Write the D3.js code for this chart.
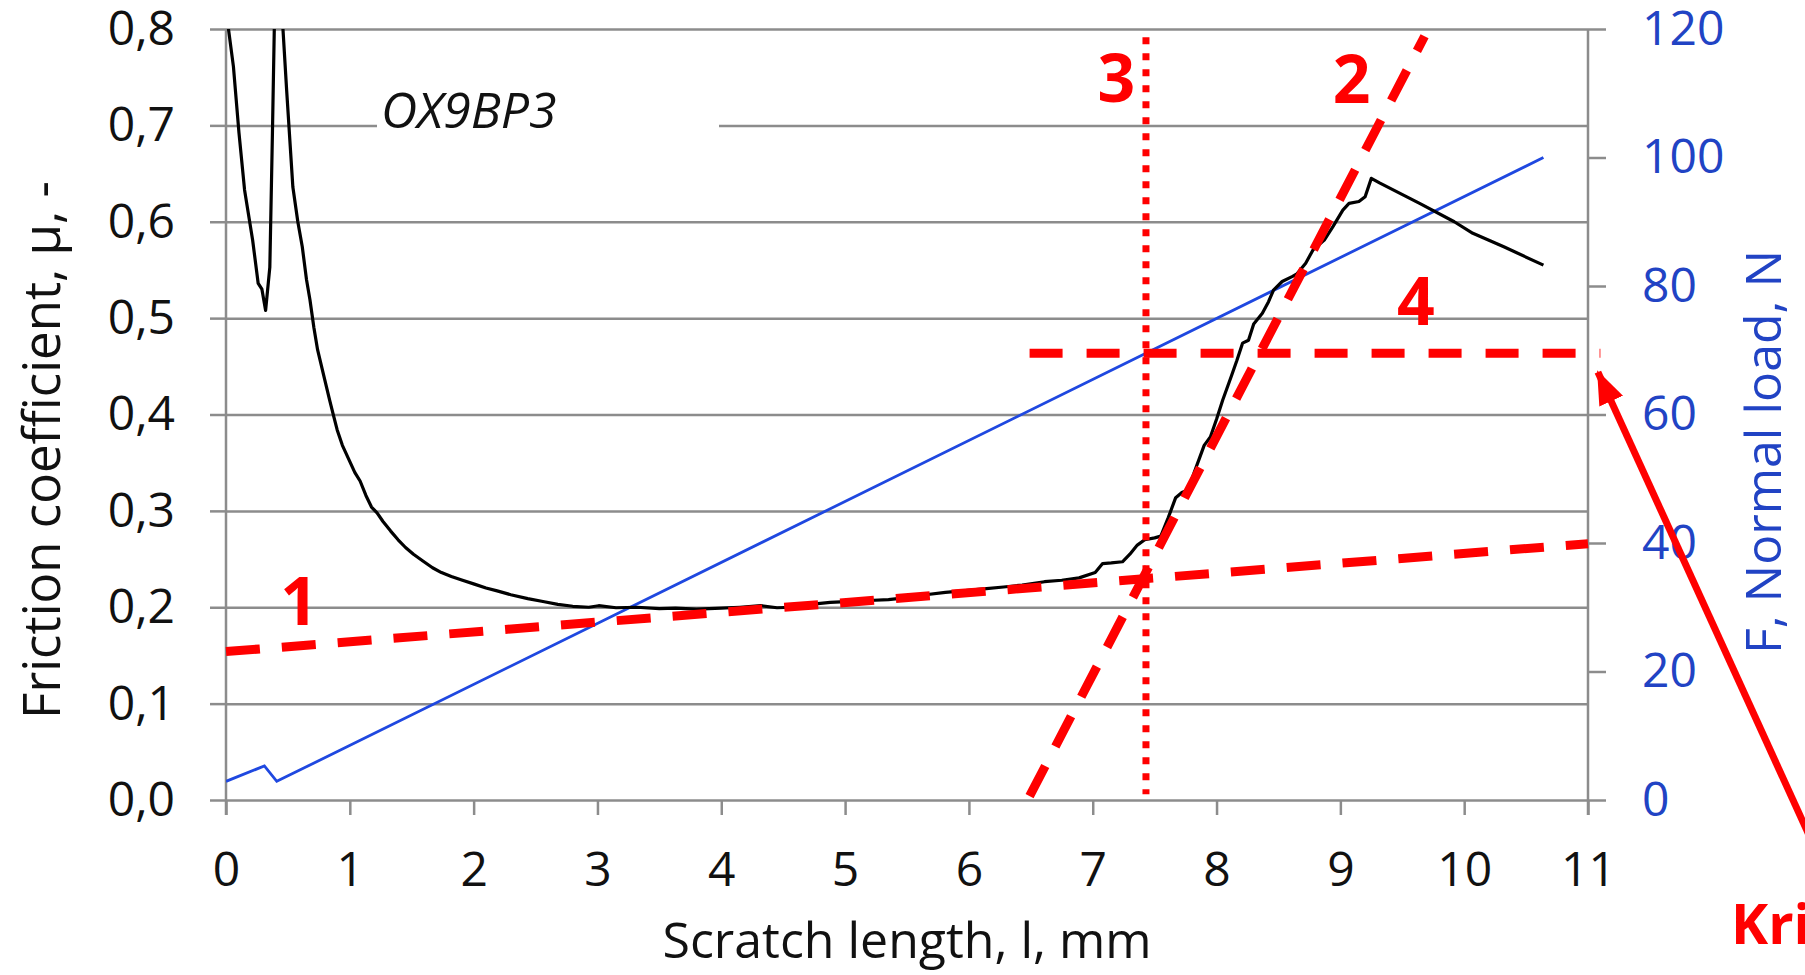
<!DOCTYPE html>
<html>
<head>
<meta charset="utf-8">
<script src="https://cdn.jsdelivr.net/npm/d3@7"></script>
<style>
  body { margin: 0; background: #fff; }
  svg { display: block; font-family: "Open Sans", "Noto Sans", sans-serif; }
</style>
</head>
<body>
<div id="chart-area"></div>
<script>
// scratch test, friction coefficient + normal load vs scratch length

const xTicks = [0, 1, 2, 3, 4, 5, 6, 7, 8, 9, 10, 11]
const muTicks = [0, 0.1, 0.2, 0.3, 0.4, 0.5, 0.6, 0.7, 0.8]
const loadTicks = [0, 20, 40, 60, 80, 100, 120]

// friction coefficient [l mm, mu]
const friction = [
  [0, 0.85], [0.02, 0.80], [0.06, 0.761], [0.105, 0.692], [0.15, 0.633], [0.16, 0.625],
  [0.215, 0.581], [0.26, 0.536], [0.29, 0.530], [0.32, 0.508], [0.354, 0.553], [0.375, 0.692],
  [0.39, 0.80], [0.41, 0.92], [0.46, 0.80], [0.49, 0.736], [0.54, 0.636], [0.58, 0.60],
  [0.616, 0.574], [0.65, 0.54], [0.678, 0.519], [0.71, 0.49], [0.74, 0.467], [0.79, 0.44],
  [0.837, 0.415], [0.87, 0.398], [0.898, 0.384], [0.94, 0.368], [0.99, 0.354], [1.04, 0.34],
  [1.083, 0.331], [1.13, 0.316], [1.175, 0.304], [1.22, 0.298], [1.268, 0.289], [1.33, 0.279],
  [1.39, 0.27], [1.45, 0.262], [1.514, 0.255], [1.59, 0.248], [1.668, 0.241], [1.74, 0.236],
  [1.82, 0.232], [1.91, 0.228], [2.006, 0.224], [2.1, 0.220], [2.19, 0.217], [2.3, 0.213],
  [2.437, 0.209], [2.56, 0.206], [2.68, 0.203], [2.8, 0.201], [2.93, 0.200], [3.01, 0.2016],
  [3.15, 0.1995], [3.32, 0.200], [3.5, 0.1985], [3.63, 0.199], [3.8, 0.198], [4.0, 0.199],
  [4.15, 0.200], [4.32, 0.2016], [4.45, 0.1995], [4.57, 0.200], [4.72, 0.203], [4.88, 0.205],
  [5.05, 0.206], [5.19, 0.207], [5.35, 0.208], [5.5, 0.210], [5.65, 0.213], [5.81, 0.2155],
  [5.95, 0.217], [6.12, 0.219], [6.28, 0.221], [6.43, 0.223], [6.61, 0.2265], [6.75, 0.228],
  [6.89, 0.2305], [7.02, 0.236], [7.08, 0.2453], [7.15, 0.246], [7.24, 0.2472], [7.30, 0.255],
  [7.36, 0.2645], [7.42, 0.27], [7.50, 0.272], [7.55, 0.2738], [7.61, 0.293], [7.67, 0.3137],
  [7.72, 0.319], [7.77, 0.3216], [7.82, 0.34], [7.86, 0.354], [7.9, 0.368], [7.95, 0.3766],
  [8.0, 0.395], [8.05, 0.415], [8.12, 0.44], [8.164, 0.456], [8.21, 0.474], [8.258, 0.477],
  [8.30, 0.494], [8.37, 0.505], [8.42, 0.517], [8.46, 0.529], [8.53, 0.538], [8.61, 0.543],
  [8.65, 0.546], [8.72, 0.557], [8.78, 0.571], [8.87, 0.581], [8.94, 0.595], [9.02, 0.612],
  [9.07, 0.619], [9.15, 0.621], [9.20, 0.626], [9.25, 0.645], [9.32, 0.64], [9.64, 0.619],
  [9.92, 0.6], [10.07, 0.588], [10.32, 0.574], [10.64, 0.555]
]

// normal load [l mm, F N]
const load = [[0, 2.9], [0.31, 5.3], [0.41, 2.9], [10.64, 100]]

// red construction lines, in l / mu
const fitLines = [
  { name: "1", x1: 0, y1: 0.154, x2: 11, y2: 0.266, dash: "34,22" },
  { name: "2", x1: 6.49, y1: 0.004, x2: 9.68, y2: 0.7925, dash: "34,22" },
  { name: "4", x1: 6.49, y1: 0.4635, x2: 11.1, y2: 0.4635, dash: "33,24" }
]
const critX = 7.43
const critRange = [0.006, 0.7915]

const markLabels = [
  { text: "1", x: 0.59, y: 0.1815 },
  { text: "2", x: 9.09, y: 0.723 },
  { text: "3", x: 7.19, y: 0.724 },
  { text: "4", x: 9.61, y: 0.4927 }
]

const arrowTip = [11.08, 0.444]
const arrowTail = [12.84, -0.052]

const W = 1805, H = 975
const X0 = 226, X1 = 1588, Y0 = 800, Y1 = 29

const svg = d3.select("#chart-area").append("svg")
  .attr("width", W)
  .attr("height", H)

const x = d3.scaleLinear().domain([0, 11]).range([X0, X1])
const y = d3.scaleLinear().domain([0, 0.8]).range([Y0, Y1])
const yR = d3.scaleLinear().domain([0, 120]).range([Y0, Y1])

const comma = d3.formatLocale({ decimal: ",", thousands: " ", grouping: [3], currency: ["", ""] }).format(".1f")

const gridColor = "#8c8c8c"
const blueText = "#2143c4"

svg.append("defs").append("clipPath").attr("id", "plot")
  .append("rect").attr("x", X0).attr("y", Y1).attr("width", X1 - X0).attr("height", Y0 - Y1)

// grid
const grid = svg.append("g")
  .attr("transform", `translate(${X0},0)`)
  .call(d3.axisLeft(y).tickValues(muTicks).tickSize(-(X1 - X0)).tickFormat(""))
grid.select(".domain").remove()
grid.selectAll("line").attr("stroke", gridColor).attr("stroke-width", 2.5)

// left axis
const yAxisGroup = svg.append("g")
  .attr("transform", `translate(${X0},0)`)
  .call(d3.axisLeft(y).tickValues(muTicks).tickSize(16).tickPadding(35).tickFormat(comma))
yAxisGroup.select(".domain").remove()
yAxisGroup.selectAll("line").attr("stroke", gridColor).attr("stroke-width", 2.5)
yAxisGroup.selectAll("text").attr("font-size", 48).attr("fill", "#111")
  .attr("font-family", "Open Sans, sans-serif")

// right axis
const yRAxisGroup = svg.append("g")
  .attr("transform", `translate(${X1},0)`)
  .call(d3.axisRight(yR).tickValues(loadTicks).tickSize(18).tickPadding(36))
yRAxisGroup.select(".domain").remove()
yRAxisGroup.selectAll("line").attr("stroke", gridColor).attr("stroke-width", 2.5)
yRAxisGroup.selectAll("text").attr("font-size", 48).attr("fill", blueText)
  .attr("font-family", "Open Sans, sans-serif")

// bottom axis
const xAxisGroup = svg.append("g")
  .attr("transform", `translate(0,${Y0})`)
  .call(d3.axisBottom(x).tickValues(xTicks).tickSize(15).tickPadding(37))
xAxisGroup.select(".domain").remove()
xAxisGroup.selectAll("line").attr("stroke", gridColor).attr("stroke-width", 2.5)
xAxisGroup.selectAll("text").attr("font-size", 48).attr("fill", "#111")
  .attr("font-family", "Open Sans, sans-serif")

// vertical axis lines
svg.selectAll(".vaxis").data([0, 11]).enter().append("line")
  .attr("x1", d => x(d)).attr("x2", d => x(d))
  .attr("y1", Y1).attr("y2", Y0 + 15)
  .attr("stroke", gridColor).attr("stroke-width", 2.5)

// sample name box
svg.append("rect")
  .attr("x", 377).attr("y", 70).attr("width", 342).attr("height", 100)
  .attr("fill", "#fff")
svg.append("text")
  .attr("x", 381).attr("y", 128)
  .attr("font-size", 50).attr("font-style", "italic")
  .attr("fill", "#111")
  .text("OX9BP3")

const plot = svg.append("g").attr("clip-path", "url(#plot)")

plot.append("path")
  .datum(load)
  .attr("fill", "none")
  .attr("stroke", "#1f48e0")
  .attr("stroke-width", 2.8)
  .attr("d", d3.line().x(d => x(d[0])).y(d => yR(d[1])))

plot.append("path")
  .datum(friction)
  .attr("fill", "none")
  .attr("stroke", "#000")
  .attr("stroke-width", 3.2)
  .attr("stroke-linejoin", "round")
  .attr("d", d3.line().x(d => x(d[0])).y(d => y(d[1])))

// red construction lines
svg.selectAll(".fit").data(fitLines).enter().append("line")
  .attr("x1", d => x(d.x1)).attr("y1", d => y(d.y1))
  .attr("x2", d => x(d.x2)).attr("y2", d => y(d.y2))
  .attr("stroke", "#ff0000")
  .attr("stroke-width", 9)
  .attr("stroke-dasharray", d => d.dash)

svg.append("line")
  .attr("x1", x(critX)).attr("x2", x(critX))
  .attr("y1", y(critRange[1])).attr("y2", y(critRange[0]))
  .attr("stroke", "#ff0000")
  .attr("stroke-width", 7)
  .attr("stroke-dasharray", "7,9")

svg.selectAll(".mark").data(markLabels).enter().append("text")
  .attr("x", d => x(d.x)).attr("y", d => y(d.y))
  .attr("text-anchor", "middle")
  .attr("font-size", 66).attr("font-weight", "bold")
  .attr("fill", "#ff0000")
  .text(d => d.text)

// arrow to critical load
svg.select("defs").append("marker")
  .attr("id", "head")
  .attr("markerUnits", "userSpaceOnUse")
  .attr("viewBox", "0 0 34 26")
  .attr("refX", 32).attr("refY", 13)
  .attr("markerWidth", 34).attr("markerHeight", 26)
  .attr("orient", "auto")
  .append("path").attr("d", "M0,0 L34,13 L0,26 Z").attr("fill", "#ff0000")

svg.append("line")
  .attr("x1", x(arrowTail[0])).attr("y1", y(arrowTail[1]))
  .attr("x2", x(arrowTip[0])).attr("y2", y(arrowTip[1]))
  .attr("stroke", "#ff0000")
  .attr("stroke-width", 7)
  .attr("marker-end", "url(#head)")

svg.append("text")
  .attr("x", 1731).attr("y", 944)
  .attr("font-size", 56).attr("font-weight", "bold")
  .attr("fill", "#ff0000")
  .text("Kritische Last")

// axis titles
svg.append("text")
  .attr("x", (X0 + X1) / 2).attr("y", 958)
  .attr("text-anchor", "middle")
  .attr("font-size", 50).attr("fill", "#111")
  .text("Scratch length, l, mm")

svg.append("text")
  .attr("transform", "translate(60,450) rotate(-90)")
  .attr("text-anchor", "middle")
  .attr("font-size", 51).attr("fill", "#111")
  .text("Friction coefficient, µ, -")

svg.append("text")
  .attr("transform", "translate(1781,452) rotate(-90)")
  .attr("text-anchor", "middle")
  .attr("font-size", 50).attr("fill", blueText)
  .text("F, Normal load, N")
</script>
</body>
</html>
